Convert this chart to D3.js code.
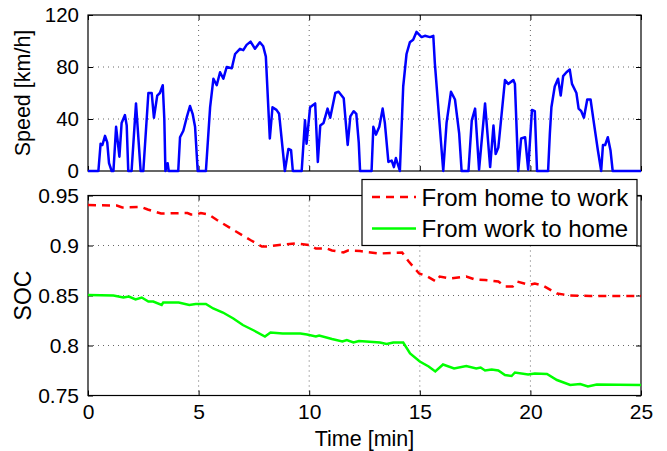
<!DOCTYPE html>
<html>
<head>
<meta charset="utf-8">
<script src="https://cdn.jsdelivr.net/npm/d3@7"></script>
<style>
  body { margin: 0; background: #fff; }
  svg { display: block; font-family: "Liberation Sans", Arial, Helvetica, sans-serif; }
</style>
</head>
<body>
<div id="chrt"></div>
<script>
// ---- data ----
const speedTime = [0,0.47,0.57,0.65,0.77,0.87,0.95,1.07,1.15,1.27,1.42,1.52,1.67,1.75,1.82,1.97,2.17,2.38,2.5,2.73,2.88,2.98,3.13,3.25,3.38,3.45,3.5,3.6,3.65,4.08,4.16,4.31,4.46,4.61,4.73,4.84,4.96,5.33,5.52,5.67,5.82,5.97,6.12,6.27,6.5,6.65,6.87,7.02,7.17,7.35,7.55,7.77,7.92,8.04,8.22,8.34,8.52,8.64,8.9,9.06,9.18,9.26,9.66,9.81,9.88,10.04,10.27,10.39,10.5,10.65,10.83,10.95,11.18,11.33,11.56,11.74,11.86,12.01,12.13,12.24,12.3,12.82,12.9,13.02,13.17,13.32,13.42,13.58,13.73,13.83,13.92,14.1,14.25,14.4,14.55,14.7,14.85,15.08,15.23,15.46,15.61,15.68,16.06,16.21,16.41,16.59,16.78,16.89,17.2,17.35,17.5,17.68,17.95,18.18,18.33,18.43,18.55,18.85,19.0,19.23,19.3,19.45,19.58,19.76,19.9,20.07,20.2,20.3,20.8,20.88,20.95,21.1,21.25,21.37,21.48,21.63,21.78,21.88,22.08,22.18,22.3,22.42,22.57,22.72,22.87,23.05,23.2,23.28,23.38,23.5,23.62,23.72,25];
const speedVal  = [0,0,21,20,27,22,6,0,0,34,11,37,43,35,0,0,52,0,0,60,60,41,58,60,66,40,0,6,0,0,26,31,41,50,44,34,0,0,49,71,66,76,71,80,79,90,94,93,97,99.5,94,99,96,88,25,49,47,44,0,17,16,0,0,39,21,49,52,7,35,37,48,41,60,61,56,20,42,46,44,22,0,0,34,28,34,48,37,7,8,3,10,0,65,90,99,101,107,103,104,103,104,83,0,37,61,55,29,0,0,39,48,1,52,3,35,13,18,70,67,70,67,0,25,26,1,47,46,0,0,29,49,65,71,58,73,76,78,67,60,48,46,41,55,55,37,16,0,20,20,26,16,0,0];

const homeWorkTime = [0,1.3,1.55,2.4,2.7,3.3,4.5,4.65,4.9,5.1,5.45,5.83,6.58,7.34,7.86,8.1,8.64,9.4,10.0,10.3,10.8,11.03,11.55,11.75,12.3,12.6,13.2,14.2,14.5,14.97,15.35,15.73,15.9,16.4,17.1,17.5,17.95,18.55,18.85,19.2,19.4,19.95,20.2,20.6,21.2,21.8,22.7,25];
const homeWorkSoc  = [0.9405,0.940,0.938,0.9385,0.936,0.932,0.9325,0.931,0.931,0.9325,0.931,0.9255,0.9155,0.9055,0.899,0.899,0.9005,0.902,0.9005,0.897,0.897,0.895,0.893,0.895,0.8945,0.8935,0.892,0.893,0.884,0.872,0.869,0.864,0.869,0.867,0.869,0.866,0.8655,0.864,0.859,0.859,0.864,0.8605,0.862,0.8595,0.852,0.850,0.8495,0.8495];

const workHomeTime = [0,1.15,1.6,1.85,2.15,2.43,2.73,2.95,3.33,3.4,4.1,4.58,4.87,5.33,5.66,6.1,6.57,7.0,7.5,8.0,8.25,8.8,9.6,9.9,10.3,10.45,11.03,11.5,11.7,12.0,12.25,13.2,13.5,13.8,14.25,14.56,15.0,15.4,15.7,16.05,16.55,17.1,17.55,17.75,17.95,18.25,18.55,18.85,19.15,19.3,19.9,20.2,20.75,21.2,21.8,22.25,22.6,23.0,25];
const workHomeSoc  = [0.8505,0.850,0.848,0.849,0.846,0.848,0.844,0.844,0.8405,0.843,0.843,0.8405,0.8415,0.8415,0.837,0.833,0.827,0.8205,0.815,0.809,0.813,0.812,0.812,0.811,0.809,0.810,0.8065,0.804,0.8055,0.803,0.8045,0.803,0.8015,0.803,0.803,0.792,0.784,0.779,0.774,0.781,0.777,0.7795,0.777,0.778,0.775,0.776,0.775,0.7705,0.7695,0.773,0.771,0.772,0.7715,0.7655,0.7605,0.7615,0.759,0.761,0.7605];

const timeTicks  = [0, 5, 10, 15, 20, 25];
const speedTicks = [0, 40, 80, 120];
const socTicks   = [0.75, 0.8, 0.85, 0.9, 0.95];
const legendNames = ['From home to work', 'From work to home'];

// ---- layout ----
const W = 667, H = 451;
const left = 88, right = 641;
const top1 = 15, bottom1 = 171;     // speed panel
const top2 = 195.5, bottom2 = 395.5; // SOC panel

const svg = d3.select('#chrt').append('svg').attr('width', W).attr('height', H);

const scaleX = d3.scaleLinear().domain([0, 25]).range([left, right]);
const scaleSpeed = d3.scaleLinear().domain([0, 120]).range([bottom1, top1]);
const scaleSoc = d3.scaleLinear().domain([0.75, 0.95]).range([bottom2, top2]);

// draws a MATLAB-like box: dotted grid, inward ticks on all sides, frame
function drawPanel(scaleY, yTicks, yTop, yBottom, showXLabels, fontSize, yFmt) {
  const g = svg.append('g');
  // grid
  g.selectAll('.vg').data(timeTicks.slice(1, -1)).enter().append('line')
      .attr('x1', d => scaleX(d)).attr('x2', d => scaleX(d))
      .attr('y1', yTop).attr('y2', yBottom)
      .attr('stroke', '#555').attr('stroke-width', 0.9).attr('stroke-dasharray', '1,4');
  g.selectAll('.hg').data(yTicks.slice(1, -1)).enter().append('line')
      .attr('x1', left).attr('x2', right)
      .attr('y1', d => scaleY(d)).attr('y2', d => scaleY(d))
      .attr('stroke', '#555').attr('stroke-width', 0.9).attr('stroke-dasharray', '1,4');

  // inward ticks, bottom and left use d3 axes with negative size
  g.append('g').attr('transform', 'translate(0,' + yBottom + ')')
      .call(d3.axisBottom(scaleX).tickValues(timeTicks).tickSizeInner(-5).tickSizeOuter(0)
        .tickFormat(showXLabels ? d3.format('d') : ''))
      .call(a => a.select('.domain').remove())
      .call(a => a.selectAll('text').attr('y', 9).attr('font-size', 21).attr('fill', '#000').attr('font-family', null));
  g.append('g').attr('transform', 'translate(0,' + yTop + ')')
      .call(d3.axisTop(scaleX).tickValues(timeTicks).tickSizeInner(-5).tickSizeOuter(0).tickFormat(''))
      .call(a => a.select('.domain').remove());
  g.append('g').attr('transform', 'translate(' + left + ',0)')
      .call(d3.axisLeft(scaleY).tickValues(yTicks).tickSizeInner(-5).tickSizeOuter(0).tickFormat(yFmt))
      .call(a => a.select('.domain').remove())
      .call(a => a.selectAll('text').attr('x', -9).attr('font-size', fontSize).attr('fill', '#000').attr('font-family', null));
  g.append('g').attr('transform', 'translate(' + right + ',0)')
      .call(d3.axisRight(scaleY).tickValues(yTicks).tickSizeInner(-5).tickSizeOuter(0).tickFormat(''))
      .call(a => a.select('.domain').remove());
  g.selectAll('.tick line').attr('stroke', '#000');

  g.append('rect')
      .attr('x', left).attr('y', yTop).attr('width', right - left).attr('height', yBottom - yTop)
      .attr('fill', 'none').attr('stroke', '#000').attr('stroke-width', 1.2);
  return g;
}

drawPanel(scaleSpeed, speedTicks, top1, bottom1, false, 20.5, d3.format('d'));
drawPanel(scaleSoc, socTicks, top2, bottom2, true, 21, d => String(d));

// ---- lines ----
const speedLine = d3.line().x(d => scaleX(d[0])).y(d => scaleSpeed(d[1]));
svg.append('path')
    .datum(d3.zip(speedTime, speedVal))
    .attr('fill', 'none').attr('stroke', '#0000ff').attr('stroke-width', 2.5)
    .attr('stroke-linejoin', 'round')
    .attr('d', speedLine);

const socLine = d3.line().x(d => scaleX(d[0])).y(d => scaleSoc(d[1]));
svg.append('path')
    .datum(d3.zip(homeWorkTime, homeWorkSoc))
    .attr('fill', 'none').attr('stroke', '#ff0000').attr('stroke-width', 2.5)
    .attr('stroke-dasharray', '8,6')
    .attr('d', socLine);
svg.append('path')
    .datum(d3.zip(workHomeTime, workHomeSoc))
    .attr('fill', 'none').attr('stroke', '#00ff00').attr('stroke-width', 2.5)
    .attr('d', socLine);

// ---- axis labels ----
svg.append('text')
    .attr('transform', 'translate(29.5,' + (top1 + bottom1) / 2 + ') rotate(-90)')
    .attr('text-anchor', 'middle').attr('font-size', 21.5)
    .text('Speed [km/h]');
svg.append('text')
    .attr('transform', 'translate(30.5,' + (top2 + bottom2) / 2 + ') rotate(-90)')
    .attr('text-anchor', 'middle').attr('font-size', 23)
    .text('SOC');
svg.append('text')
    .attr('x', (left + right) / 2).attr('y', 446)
    .attr('text-anchor', 'middle').attr('font-size', 21.5)
    .text('Time [min]');

// ---- legend ----
const legend = svg.append('g');
legend.append('rect')
    .attr('x', 362).attr('y', 179.5).attr('width', 275).attr('height', 66)
    .attr('fill', '#fff').attr('stroke', '#000').attr('stroke-width', 1.2);
const legendStyles = [{color: '#ff0000', dash: '8,6'}, {color: '#00ff00', dash: null}];
legend.selectAll('.li').data(legendNames).enter().append('line')
    .attr('x1', 372).attr('x2', 416)
    .attr('y1', (d, i) => 197 + i * 31.5).attr('y2', (d, i) => 197 + i * 31.5)
    .attr('stroke', (d, i) => legendStyles[i].color).attr('stroke-width', 2.5)
    .attr('stroke-dasharray', (d, i) => legendStyles[i].dash);
legend.selectAll('.lt').data(legendNames).enter().append('text')
    .attr('x', 421.5).attr('y', (d, i) => 205.5 + i * 31.5)
    .attr('font-size', 24)
    .text(d => d);
</script>
</body>
</html>
